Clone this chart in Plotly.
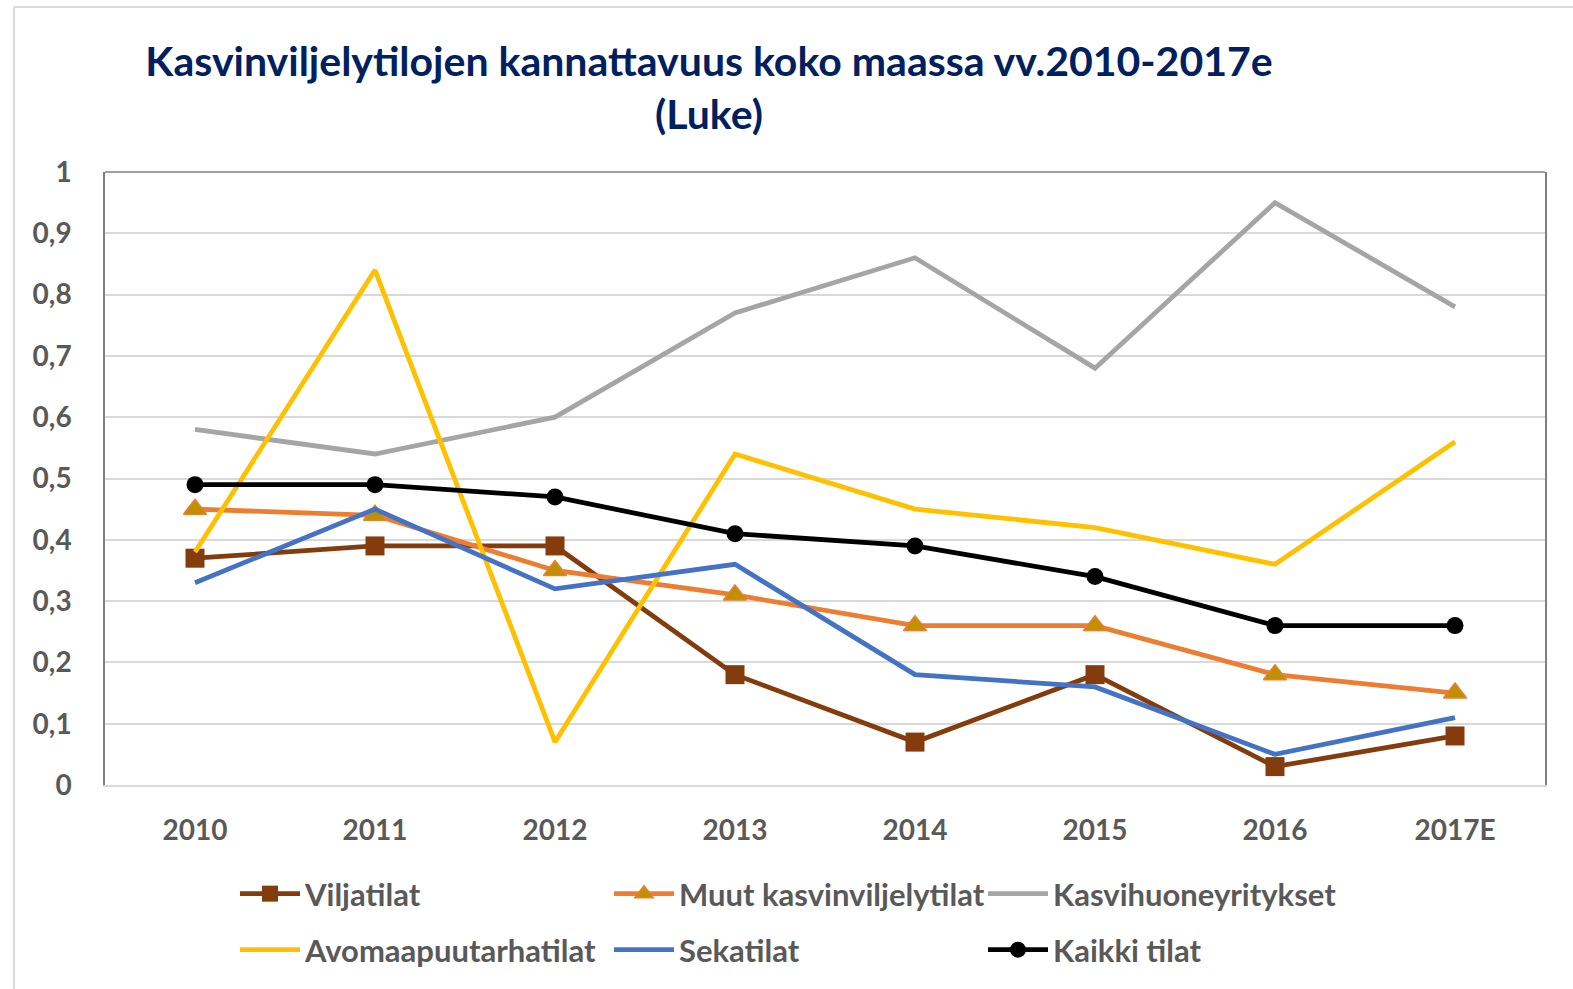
"""Kasvinviljelytilojen kannattavuus 2010-2017e line chart."""

import plotly.graph_objects as go

years = ["2010", "2011", "2012", "2013", "2014", "2015", "2016", "2017E"]

viljatilat = [0.37, 0.39, 0.39, 0.18, 0.07, 0.18, 0.03, 0.08]
muut_kasvinviljelytilat = [0.45, 0.44, 0.35, 0.31, 0.26, 0.26, 0.18, 0.15]
kasvihuoneyritykset = [0.58, 0.54, 0.60, 0.77, 0.86, 0.68, 0.95, 0.78]
avomaapuutarhatilat = [0.38, 0.84, 0.07, 0.54, 0.45, 0.42, 0.36, 0.56]
sekatilat = [0.33, 0.45, 0.32, 0.36, 0.18, 0.16, 0.05, 0.11]
kaikki_tilat = [0.49, 0.49, 0.47, 0.41, 0.39, 0.34, 0.26, 0.26]

TEXT_GRAY = "#595959"
FONT = "Lato"

fig = go.Figure()

# Series in Excel order (later ones drawn on top)
series = [
    ("Viljatilat", viljatilat, "#843C0C",
     dict(symbol="square", size=19, color="#843C0C"), "legend"),
    ("Muut kasvinviljelytilat", muut_kasvinviljelytilat, "#ED7D31",
     dict(symbol="triangle-up", size=20, color="#BF9000",
          line=dict(color="#ED7D31", width=1.5)), "legend"),
    ("Kasvihuoneyritykset", kasvihuoneyritykset, "#A5A5A5", None, "legend"),
    ("Avomaapuutarhatilat", avomaapuutarhatilat, "#FFC000", None, "legend2"),
    ("Sekatilat", sekatilat, "#4472C4", None, "legend2"),
    ("Kaikki tilat", kaikki_tilat, "#000000",
     dict(symbol="circle", size=17, color="#000000"), "legend2"),
]

for name, values, color, marker, legend in series:
    fig.add_trace(
        go.Scatter(
            x=years,
            y=values,
            name=name,
            mode="lines+markers" if marker else "lines",
            line=dict(color=color, width=4.8),
            marker=marker,
            legend=legend,
        )
    )

legend_style = dict(
    orientation="h",
    xref="container",
    yref="container",
    xanchor="left",
    yanchor="middle",
    entrywidth=299,
    entrywidthmode="pixels",
    itemwidth=60,
    font=dict(family=FONT, size=31, color=TEXT_GRAY, weight="bold"),
    bgcolor="rgba(0,0,0,0)",
    tracegroupgap=0,
)

fig.update_layout(
    width=1573,
    height=989,
    margin=dict(l=105, r=28, t=172, b=204),
    paper_bgcolor="white",
    plot_bgcolor="white",
    separators=", ",
    title=dict(
        text="Kasvinviljelytilojen kannattavuus koko maassa vv.2010-2017e<br>(Luke)",
        xref="container",
        x=709 / 1573,
        xanchor="center",
        yref="container",
        y=1 - 76 / 989,
        yanchor="middle",
        font=dict(family=FONT, size=41, color="#002060", weight="bold"),
        automargin=False,
    ),
    xaxis=dict(
        range=[-0.5, len(years) - 0.5],
        showgrid=False,
        showline=True,
        linecolor="#D9D9D9",
        linewidth=2,
        ticks="",
        ticklabelstandoff=19,
        automargin=False,
        tickfont=dict(family=FONT, size=28, color=TEXT_GRAY, weight="bold"),
    ),
    yaxis=dict(
        range=[0, 1],
        dtick=0.1,
        showgrid=True,
        gridcolor="#D9D9D9",
        gridwidth=2,
        zeroline=False,
        showline=True,
        mirror=True,
        linecolor="#7F7F7F",
        linewidth=1.5,
        ticks="",
        ticklabelstandoff=26,
        automargin=False,
        tickfont=dict(family=FONT, size=28, color=TEXT_GRAY, weight="bold"),
    ),
    legend=dict(legend_style, x=235 / 1573, y=1 - 894 / 989),
    legend2=dict(legend_style, x=235 / 1573, y=1 - 950 / 989),
    shapes=[
        # top edge of the plot frame
        dict(type="line", xref="paper", yref="paper", x0=0, x1=1, y0=1, y1=1,
             line=dict(color="#7F7F7F", width=1.5)),
        # outer chart border (top and left)
        dict(type="line", xref="paper", yref="paper",
             x0=-91 / 1440, x1=1 + 28 / 1440, y0=1 + 165 / 613, y1=1 + 165 / 613,
             line=dict(color="#D9D9D9", width=2)),
        dict(type="line", xref="paper", yref="paper",
             x0=-91 / 1440, x1=-91 / 1440, y0=1 + 165 / 613, y1=-204 / 613,
             line=dict(color="#D9D9D9", width=2)),
    ],
)

# drop the default page margin so the figure sits at the window's top-left
fig.write_html(
    "out.html",
    config={"displayModeBar": False},
    post_script="document.body.style.margin = '0px';",
)
